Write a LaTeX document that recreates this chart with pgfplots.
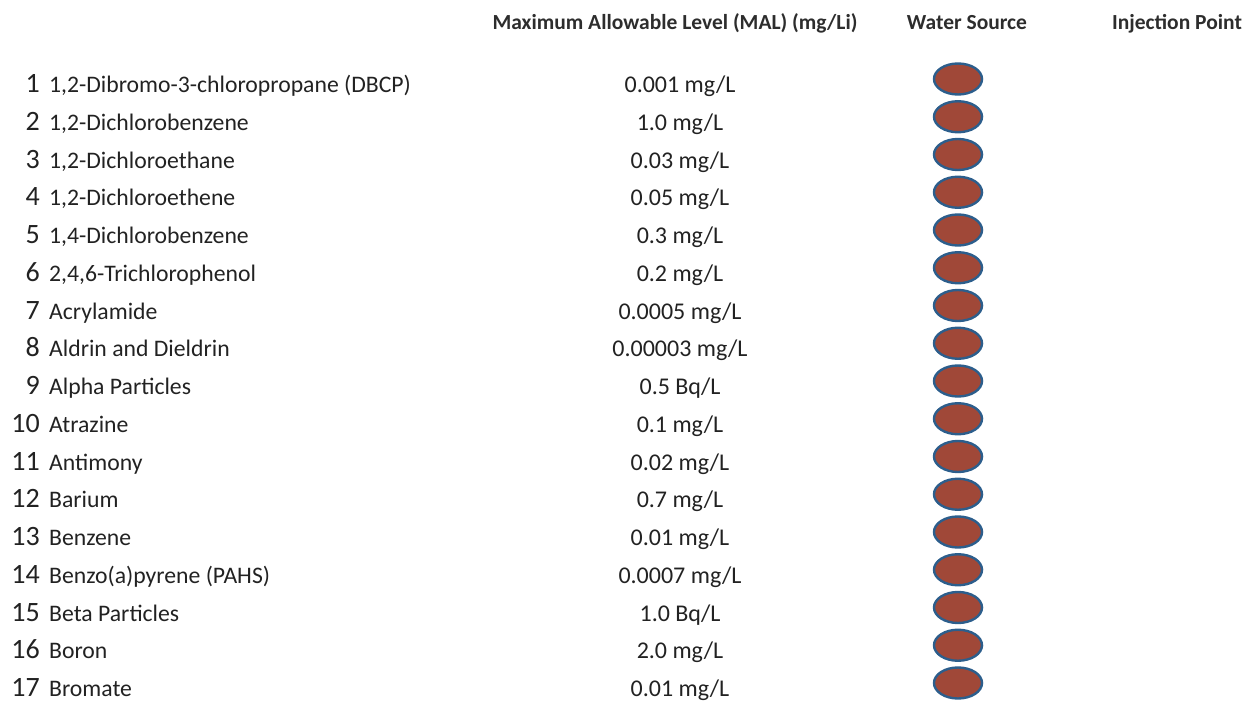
\documentclass[border=0pt]{standalone}
\usepackage{fontspec}
\setmainfont{Carlito}
\usepackage{pgfplots}
\usepackage{pgfplotstable}
\pgfplotsset{compat=1.18}

\definecolor{dotfill}{RGB}{160,72,56}
\definecolor{dotedge}{RGB}{44,94,140}
\definecolor{ink}{RGB}{34,34,34}
\definecolor{headink}{RGB}{45,45,45}

% row; contaminant; maximum allowable level
\pgfplotstableread[col sep=semicolon]{
row;name;mal
1;1,2-Dibromo-3-chloropropane (DBCP);0.001 mg/L
2;1,2-Dichlorobenzene;1.0 mg/L
3;1,2-Dichloroethane;0.03 mg/L
4;1,2-Dichloroethene;0.05 mg/L
5;1,4-Dichlorobenzene;0.3 mg/L
6;2,4,6-Trichlorophenol;0.2 mg/L
7;Acrylamide;0.0005 mg/L
8;Aldrin and Dieldrin;0.00003 mg/L
9;Alpha Particles;0.5 Bq/L
10;Atrazine;0.1 mg/L
11;Antimony;0.02 mg/L
12;Barium;0.7 mg/L
13;Benzene;0.01 mg/L
14;Benzo(a)pyrene (PAHS);0.0007 mg/L
15;Beta Particles;1.0 Bq/L
16;Boron;2.0 mg/L
17;Bromate;0.01 mg/L
}\contaminants

\begin{document}
\begin{tikzpicture}
\begin{axis}[
    scale only axis,
    width=1252bp, height=701bp,
    xmin=0, xmax=1252,
    ymin=-1.2517, ymax=17.318,
    y dir=reverse,
    axis lines=none,
    clip=false,
    point meta=explicit symbolic,
  ]
  \coordinate (bl) at (rel axis cs:0,0);
  \coordinate (tr) at (rel axis cs:1,1);
  % row numbers
  \addplot[only marks, mark=none, nodes near coords,
    nodes near coords style={anchor=base east, inner sep=0pt, yshift=-7.5bp,
      text=ink, font=\fontsize{28bp}{30bp}\selectfont}]
    table[x expr=40, y=row, meta=row] {\contaminants};
  % contaminant names
  \addplot[only marks, mark=none, nodes near coords,
    nodes near coords style={anchor=base west, inner sep=0pt, yshift=-7.5bp,
      text=ink, font=\fontsize{23.7bp}{26bp}\selectfont}]
    table[x expr=49, y=row, meta=name] {\contaminants};
  % maximum allowable level
  \addplot[only marks, mark=none, nodes near coords,
    nodes near coords style={anchor=base, inner sep=0pt, yshift=-7.5bp,
      text=ink, font=\fontsize{24bp}{26bp}\selectfont}]
    table[x expr=680, y=row, meta=mal] {\contaminants};
  % water source dots
  \addplot[only marks, mark=*, mark size=15.5bp,
    mark options={fill=dotfill, draw=dotedge, line width=2.4bp, xscale=1.55, yshift=6bp}]
    table[x expr=958, y=row] {\contaminants};
  % column heads
  \begin{scope}[every node/.style={anchor=base, inner sep=0pt, text=headink,
      font=\fontsize{21.5bp}{23bp}\bfseries}]
    \node at ([yshift=-6bp]axis cs:675,-0.616) {Maximum Allowable Level (MAL) (mg/Li)};
    \node at ([yshift=-6bp]axis cs:967,-0.616) {Water Source};
    \node at ([yshift=-6bp]axis cs:1177,-0.616) {Injection Point};
  \end{scope}
\end{axis}
\pgfresetboundingbox
\path (bl) rectangle (tr);
\end{tikzpicture}
\end{document}
